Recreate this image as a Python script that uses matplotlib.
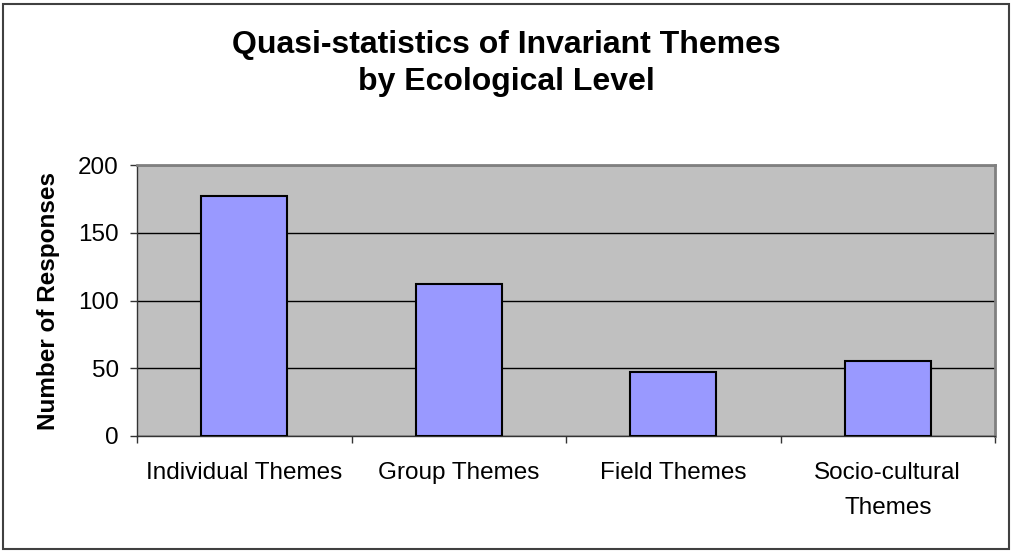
import matplotlib.pyplot as plt
from matplotlib.patches import Rectangle

categories = ['Individual Themes', 'Group Themes', 'Field Themes', 'Socio-cultural\nThemes']
responses = [177, 112, 47, 55]
y_ticks = [0, 50, 100, 150, 200]

plt.rcParams['font.family'] = ['Liberation Sans', 'DejaVu Sans']

fig = plt.figure(figsize=(10.13, 5.52), dpi=100)
ax = fig.add_axes([137 / 1013, 1 - 436 / 552, (995 - 137) / 1013, (436 - 165) / 552])

# outer chart border
fig.patches.append(Rectangle((3 / 1013, 3 / 552), 1006 / 1013, 545 / 552, transform=fig.transFigure,
                             fill=False, edgecolor='#404040', linewidth=1.5))

ax.set_facecolor('#C0C0C0')
x = range(len(categories))
ax.bar(x, responses, width=0.4, color='#9999FF', edgecolor='black', linewidth=1.5, zorder=3)

ax.set_xlim(-0.5, len(categories) - 0.5)
ax.set_ylim(0, 200)
ax.set_yticks(y_ticks)
ax.yaxis.grid(True, color='black', linewidth=1, zorder=1)
ax.set_axisbelow(True)

ax.set_xticks(x)
ax.set_xticklabels(categories, fontsize=17.5, linespacing=1.75)
ax.tick_params(axis='x', which='major', length=0, pad=19)
ax.set_xticks([i - 0.5 for i in range(len(categories) + 1)], minor=True)
ax.tick_params(axis='x', which='minor', length=5, width=1, color='#333333', direction='out')
ax.tick_params(axis='y', labelsize=17.5, length=5, width=1, color='#333333', pad=8)

for s in ['left', 'bottom']:
    ax.spines[s].set_color('#333333')
    ax.spines[s].set_linewidth(1)
for s in ['top', 'right']:
    ax.spines[s].set_color('#808080')
    ax.spines[s].set_linewidth(2)

ax.set_ylabel('Number of Responses', fontsize=17.5, fontweight='bold', labelpad=13)

fig.text(0.5, 1 - 45 / 552, 'Quasi-statistics of Invariant Themes', ha='center', va='center',
         fontsize=23, fontweight='bold')
fig.text(0.5, 1 - 82 / 552, 'by Ecological Level', ha='center', va='center',
         fontsize=23, fontweight='bold')

fig.savefig('out.png', dpi=100)
